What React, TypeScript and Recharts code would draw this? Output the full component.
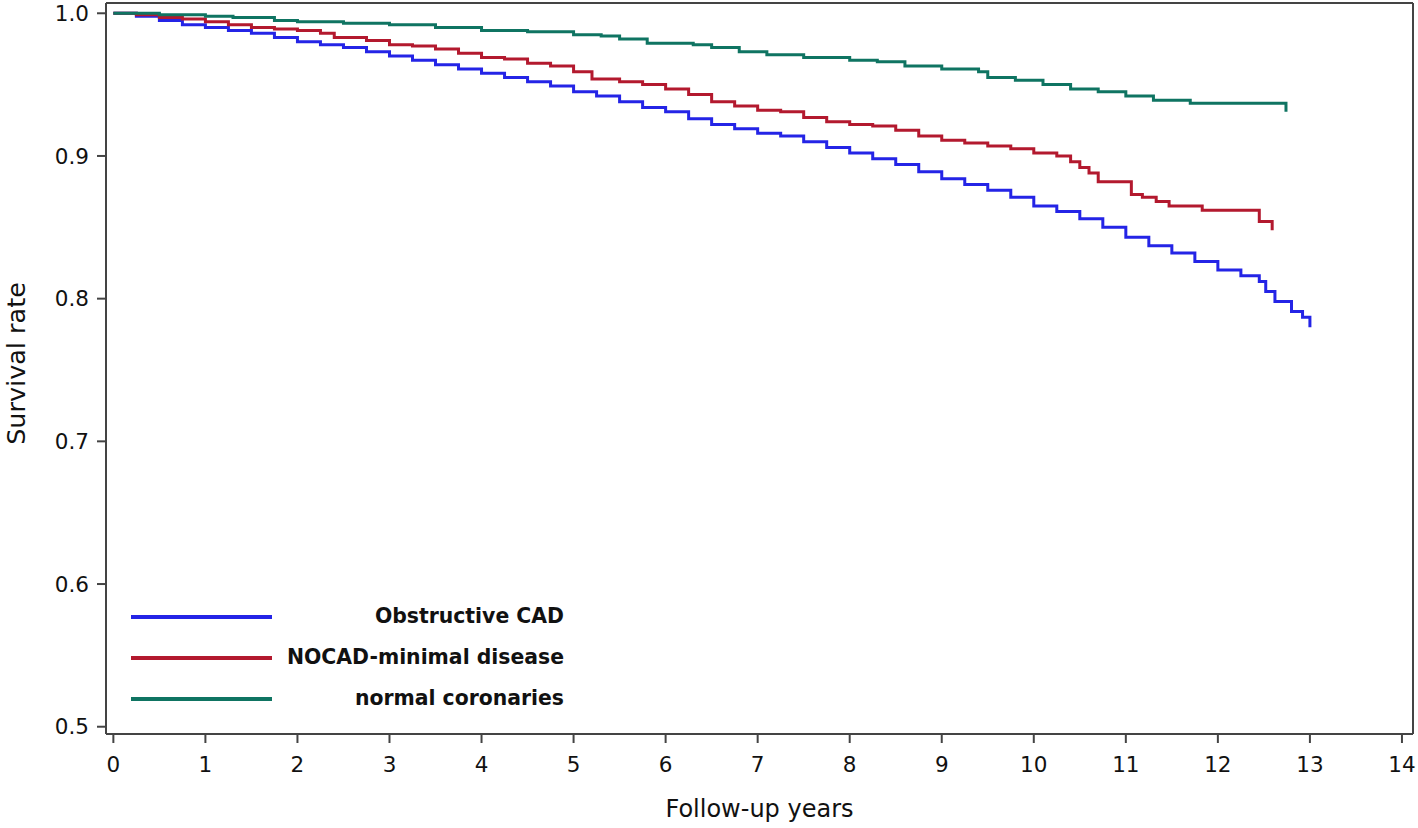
import { LineChart, Line, XAxis, YAxis, ReferenceLine } from 'recharts'

// Kaplan-Meier survival by angiographic group
const obstructiveT = [0, 0.25, 0.5, 0.75, 1, 1.25, 1.5, 1.75, 2, 2.25, 2.5, 2.75, 3, 3.25, 3.5, 3.75, 4, 4.25, 4.5, 4.75, 5, 5.25, 5.5, 5.75, 6, 6.25, 6.5, 6.75, 7, 7.25, 7.5, 7.75, 8, 8.25, 8.5, 8.75, 9, 9.25, 9.5, 9.75, 10, 10.25, 10.5, 10.75, 11, 11.25, 11.5, 11.75, 12, 12.25, 12.45, 12.52, 12.62, 12.8, 12.92, 13.0]
const obstructiveS = [1.0, 0.998, 0.995, 0.992, 0.99, 0.988, 0.986, 0.983, 0.98, 0.978, 0.976, 0.973, 0.97, 0.967, 0.964, 0.961, 0.958, 0.955, 0.952, 0.949, 0.945, 0.942, 0.938, 0.934, 0.931, 0.926, 0.922, 0.919, 0.916, 0.914, 0.91, 0.906, 0.902, 0.898, 0.894, 0.889, 0.884, 0.88, 0.876, 0.871, 0.865, 0.861, 0.856, 0.85, 0.843, 0.837, 0.832, 0.826, 0.82, 0.816, 0.812, 0.805, 0.798, 0.791, 0.787, 0.78]

const nocadT = [0, 0.25, 0.5, 0.75, 1, 1.25, 1.5, 1.75, 2, 2.25, 2.4, 2.75, 3, 3.25, 3.5, 3.75, 4, 4.25, 4.5, 4.75, 5, 5.2, 5.5, 5.75, 6, 6.25, 6.5, 6.75, 7, 7.25, 7.5, 7.75, 8, 8.25, 8.5, 8.75, 9, 9.25, 9.5, 9.75, 10, 10.25, 10.4, 10.5, 10.6, 10.7, 11.06, 11.18, 11.33, 11.47, 11.83, 12.45, 12.59]
const nocadS = [1.0, 0.999, 0.997, 0.996, 0.994, 0.992, 0.99, 0.989, 0.988, 0.986, 0.983, 0.981, 0.978, 0.977, 0.975, 0.972, 0.969, 0.968, 0.965, 0.963, 0.959, 0.954, 0.952, 0.95, 0.947, 0.943, 0.938, 0.935, 0.932, 0.931, 0.927, 0.924, 0.922, 0.921, 0.918, 0.914, 0.911, 0.909, 0.907, 0.905, 0.902, 0.9, 0.896, 0.892, 0.888, 0.882, 0.873, 0.871, 0.868, 0.865, 0.862, 0.854, 0.848]

const normalT = [0, 0.5, 1, 1.3, 1.75, 2, 2.5, 3, 3.5, 4, 4.5, 5, 5.3, 5.5, 5.8, 6.3, 6.5, 6.8, 7.1, 7.5, 8, 8.3, 8.6, 9, 9.4, 9.5, 9.8, 10.1, 10.4, 10.7, 11, 11.3, 11.7, 12.74]
const normalS = [1.0, 0.999, 0.998, 0.997, 0.995, 0.994, 0.993, 0.992, 0.99, 0.988, 0.987, 0.985, 0.984, 0.982, 0.979, 0.978, 0.976, 0.973, 0.971, 0.969, 0.967, 0.966, 0.963, 0.961, 0.959, 0.955, 0.953, 0.95, 0.947, 0.945, 0.942, 0.939, 0.937, 0.931]

const xTicks = [0, 1, 2, 3, 4, 5, 6, 7, 8, 9, 10, 11, 12, 13, 14]
const yTicks = [0.5, 0.6, 0.7, 0.8, 0.9, 1.0]

const X_MIN = -0.08
const X_MAX = 14.12
const Y_MIN = 0.4949
const Y_MAX = 1.0072

const toRows = (t: number[], s: number[]) => t.map((v, i) => ({ t: v, s: s[i] }))

const series = [
  { name: 'Obstructive CAD', color: '#2424e6', data: toRows(obstructiveT, obstructiveS) },
  { name: 'NOCAD-minimal disease', color: '#b3192e', data: toRows(nocadT, nocadS) },
  { name: 'normal coronaries', color: '#0f7462', data: toRows(normalT, normalS) },
]

const FONT = '"DejaVu Sans", Arial, sans-serif'
const AXIS = '#444'
const INK = '#111'

function YLabel({ viewBox }: any) {
  const cy = viewBox.y + viewBox.height / 2 - 5
  return (
    <text x={25} y={cy} transform={`rotate(-90, 25, ${cy})`} textAnchor="middle" fontSize={25.5} fontFamily={FONT} fill={INK}>
      Survival rate
    </text>
  )
}

function XLabel({ viewBox }: any) {
  const cx = viewBox.x + viewBox.width / 2
  return (
    <text x={cx} y={817} textAnchor="middle" fontSize={24} fontFamily={FONT} fill={INK}>
      Follow-up years
    </text>
  )
}

export default function App() {
  return (
    <div style={{ position: 'absolute', left: 0, top: 0, width: 1418, height: 828, background: '#fff' }}>
      <LineChart width={1418} height={828} margin={{ top: 3, right: 5, bottom: 0, left: 0 }}>
        <XAxis
          type="number"
          dataKey="t"
          domain={[X_MIN, X_MAX]}
          ticks={xTicks}
          allowDataOverflow
          height={94}
          tickSize={9}
          tickMargin={14}
          stroke={AXIS}
          strokeWidth={2}
          tick={{ fontSize: 21.5, fontFamily: FONT, fill: INK }}
          label={<XLabel />}
        />
        <YAxis
          type="number"
          domain={[Y_MIN, Y_MAX]}
          ticks={yTicks}
          allowDataOverflow
          width={106}
          tickSize={9}
          tickMargin={8}
          stroke={AXIS}
          strokeWidth={2}
          tickFormatter={(v: number) => v.toFixed(1)}
          tick={{ fontSize: 21.5, fontFamily: FONT, fill: INK }}
          label={<YLabel />}
        />
        <ReferenceLine y={Y_MAX} stroke={AXIS} strokeWidth={2} />
        <ReferenceLine x={X_MAX} stroke={AXIS} strokeWidth={2} />
        {series.map(s => (
          <Line
            key={s.name}
            data={s.data}
            dataKey="s"
            name={s.name}
            type="stepAfter"
            stroke={s.color}
            strokeWidth={3}
            dot={false}
            activeDot={false}
            isAnimationActive={false}
          />
        ))}
      </LineChart>
      {series.map((s, i) => (
        <div key={s.name}>
          <div style={{ position: 'absolute', left: 131, top: 615 + i * 41, width: 141, height: 4, background: s.color }} />
          <div
            style={{
              position: 'absolute',
              right: 1418 - 564,
              top: 603 + i * 41,
              fontFamily: FONT,
              fontWeight: 'bold',
              fontSize: 20.4,
              lineHeight: '26px',
              color: INK,
              whiteSpace: 'nowrap',
            }}
          >
            {s.name}
          </div>
        </div>
      ))}
    </div>
  )
}
